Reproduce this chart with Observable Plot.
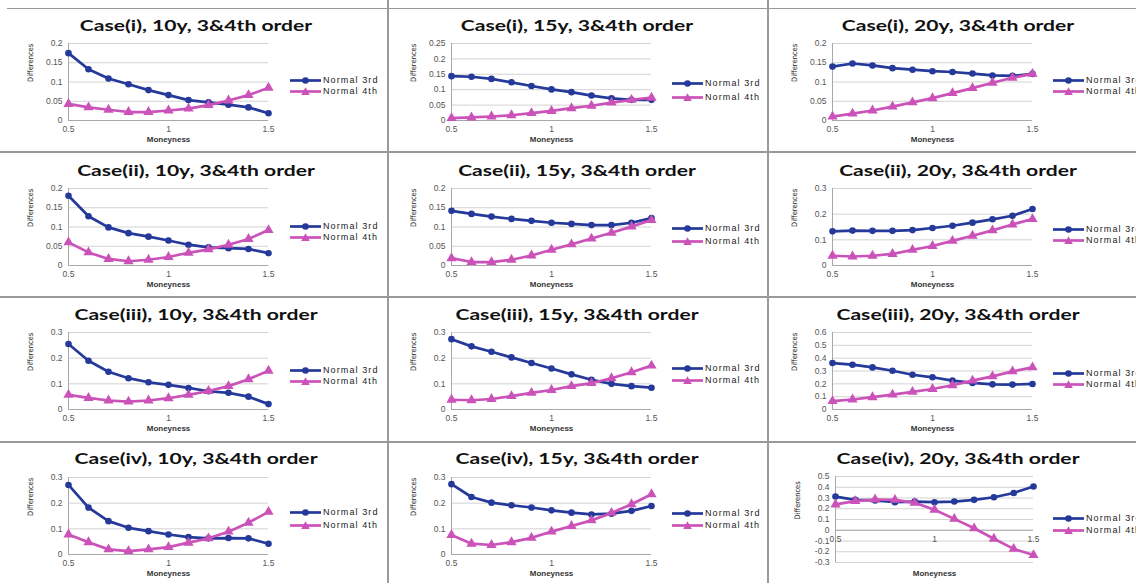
<!DOCTYPE html>
<html>
<head>
<meta charset="utf-8">
<script src="https://cdn.jsdelivr.net/npm/d3@7"></script>
<script src="https://cdn.jsdelivr.net/npm/@observablehq/plot@0.6"></script>
<style>
  body { margin: 0; width: 1136px; height: 583px; overflow: hidden; position: relative; background: #fff;
         font-family: "Liberation Sans", Arial, sans-serif; }
  .chart { position: absolute; overflow: visible; }
  .title { position: absolute; transform: translate(-50%, -50%) scaleX(1.36); white-space: nowrap;
           font-family: Lato, "Open Sans", sans-serif; font-weight: bold; font-size: 15.5px; color: #111; }
  .legend { position: absolute; display: flex; align-items: center; white-space: nowrap;
            font-size: 9px; letter-spacing: 1.1px; color: #222; transform: translateY(-50%); }
  .legend svg { margin-right: 2px; }
  .rule { position: absolute; background: #9a9a9a; }
</style>
</head>
<body>
<script>
// Moneyness grid shared by every panel
const moneyness = [0.5, 0.6, 0.7, 0.8, 0.9, 1.0, 1.1, 1.2, 1.3, 1.4, 1.5];
const xTicks = [0.5, 1, 1.5];

// Differences, case (i)
const third_i_10  = [0.175, 0.133, 0.109, 0.094, 0.079, 0.066, 0.053, 0.047, 0.041, 0.034, 0.019];
const fourth_i_10 = [0.043, 0.034, 0.028, 0.022, 0.022, 0.026, 0.031, 0.040, 0.052, 0.066, 0.085];
const third_i_15  = [0.144, 0.142, 0.135, 0.124, 0.112, 0.101, 0.092, 0.081, 0.072, 0.067, 0.067];
const fourth_i_15 = [0.008, 0.010, 0.013, 0.017, 0.024, 0.031, 0.040, 0.048, 0.058, 0.067, 0.074];
const third_i_20  = [0.140, 0.148, 0.143, 0.136, 0.132, 0.128, 0.126, 0.122, 0.117, 0.116, 0.121];
const fourth_i_20 = [0.010, 0.018, 0.026, 0.036, 0.047, 0.058, 0.071, 0.084, 0.098, 0.111, 0.121];
// case (ii)
const third_ii_10  = [0.181, 0.128, 0.099, 0.084, 0.075, 0.065, 0.054, 0.047, 0.045, 0.043, 0.032];
const fourth_ii_10 = [0.060, 0.034, 0.017, 0.011, 0.015, 0.022, 0.033, 0.042, 0.054, 0.069, 0.092];
const third_ii_15  = [0.142, 0.134, 0.127, 0.121, 0.116, 0.111, 0.108, 0.105, 0.105, 0.111, 0.123];
const fourth_ii_15 = [0.019, 0.009, 0.009, 0.015, 0.026, 0.041, 0.055, 0.070, 0.085, 0.101, 0.118];
const third_ii_20  = [0.133, 0.136, 0.135, 0.135, 0.138, 0.146, 0.155, 0.167, 0.180, 0.194, 0.220];
const fourth_ii_20 = [0.038, 0.035, 0.038, 0.045, 0.061, 0.076, 0.096, 0.116, 0.137, 0.160, 0.181];
// case (iii)
const third_iii_10  = [0.255, 0.190, 0.147, 0.122, 0.106, 0.096, 0.084, 0.071, 0.065, 0.050, 0.021];
const fourth_iii_10 = [0.057, 0.045, 0.035, 0.031, 0.035, 0.044, 0.057, 0.072, 0.091, 0.118, 0.151];
const third_iii_15  = [0.274, 0.246, 0.225, 0.203, 0.181, 0.160, 0.137, 0.116, 0.100, 0.091, 0.085];
const fourth_iii_15 = [0.038, 0.036, 0.041, 0.052, 0.065, 0.076, 0.091, 0.103, 0.122, 0.145, 0.171];
const third_iii_20  = [0.362, 0.349, 0.328, 0.302, 0.271, 0.251, 0.225, 0.207, 0.196, 0.194, 0.199];
const fourth_iii_20 = [0.065, 0.078, 0.096, 0.116, 0.137, 0.160, 0.189, 0.225, 0.258, 0.297, 0.328];
// case (iv)
const third_iv_10  = [0.271, 0.183, 0.130, 0.104, 0.091, 0.078, 0.068, 0.063, 0.064, 0.063, 0.042];
const fourth_iv_10 = [0.078, 0.048, 0.020, 0.013, 0.020, 0.029, 0.046, 0.063, 0.089, 0.124, 0.166];
const third_iv_15  = [0.274, 0.224, 0.202, 0.192, 0.183, 0.172, 0.163, 0.156, 0.159, 0.170, 0.189];
const fourth_iv_15 = [0.076, 0.042, 0.037, 0.048, 0.065, 0.089, 0.111, 0.133, 0.162, 0.196, 0.235];
const third_iv_20  = [0.313, 0.283, 0.277, 0.261, 0.267, 0.261, 0.267, 0.283, 0.307, 0.347, 0.407];
const fourth_iv_20 = [0.240, 0.271, 0.286, 0.283, 0.255, 0.191, 0.106, 0.018, -0.079, -0.173, -0.231];

// y tick sets
const ticks020 = [0, 0.05, 0.1, 0.15, 0.2];
const ticks025 = [0, 0.05, 0.1, 0.15, 0.2, 0.25];
const ticks030 = [0, 0.1, 0.2, 0.3];
const ticks060 = [0, 0.1, 0.2, 0.3, 0.4, 0.5, 0.6];
const ticksNeg = [-0.3, -0.2, -0.1, 0, 0.1, 0.2, 0.3, 0.4, 0.5];

const seriesNames = ["Normal 3rd", "Normal 4th"];
const titles = [
  "Case(i), 10y, 3&4th order", "Case(i), 15y, 3&4th order", "Case(i), 20y, 3&4th order",
  "Case(ii), 10y, 3&4th order", "Case(ii), 15y, 3&4th order", "Case(ii), 20y, 3&4th order",
  "Case(iii), 10y, 3&4th order", "Case(iii), 15y, 3&4th order", "Case(iii), 20y, 3&4th order",
  "Case(iv), 10y, 3&4th order", "Case(iv), 15y, 3&4th order", "Case(iv), 20y, 3&4th order"
];
const thirds  = [third_i_10, third_i_15, third_i_20, third_ii_10, third_ii_15, third_ii_20,
                 third_iii_10, third_iii_15, third_iii_20, third_iv_10, third_iv_15, third_iv_20];
const fourths = [fourth_i_10, fourth_i_15, fourth_i_20, fourth_ii_10, fourth_ii_15, fourth_ii_20,
                 fourth_iii_10, fourth_iii_15, fourth_iii_20, fourth_iv_10, fourth_iv_15, fourth_iv_20];
const yTickSets = [ticks020, ticks025, ticks020, ticks020, ticks020, ticks030,
                   ticks030, ticks030, ticks060, ticks030, ticks030, ticksNeg];

// ---- layout ----
const BLUE = "#24399a", PINK = "#cb52b8";
const plotLeft = [68, 451, 832];
const plotTop = [43, 188, 332, 477];
const plotW = 200, plotH = 77;
const titleX = [196, 577, 958];
const titleY = [25, 170, 314, 458];
const legendX = [290, 672, 1053];
const legendY = [[80, 91], [83, 97], [80, 91], [226, 237], [228, 241], [229, 240],
                 [370, 381], [368, 380], [373, 384], [512, 525], [513, 525], [518, 530]];
const ML = 50, MR = 10, MT = 8, MB = 30;

function addRule(x, y, w, h) {
  const d = document.createElement("div");
  d.className = "rule";
  Object.assign(d.style, {left: x + "px", top: y + "px", width: w + "px", height: h + "px"});
  document.body.appendChild(d);
}
// table grid
addRule(387, 0, 1.5, 583);
addRule(767, 0, 1.5, 583);
addRule(0, 151, 1136, 1.5);
addRule(0, 296, 1136, 1.5);
addRule(0, 441, 1136, 1.5);
addRule(7, 8, 1129, 1);

function legendSwatch(color, symbol) {
  const ns = "http://www.w3.org/2000/svg";
  const s = document.createElementNS(ns, "svg");
  s.setAttribute("width", 31); s.setAttribute("height", 9);
  s.innerHTML = `<line x1="0" x2="31" y1="4.5" y2="4.5" stroke="${color}" stroke-width="2.7"/>` +
    (symbol === "circle"
      ? `<circle cx="15.5" cy="4.5" r="3.3" fill="${color}"/>`
      : `<path d="M15.5,0.3 L19.8,8 L11.2,8 Z" fill="${color}"/>`);
  return s;
}

titles.forEach((title, k) => {
  const col = k % 3, row = Math.floor(k / 3);
  const ticks = yTickSets[k];
  const [y0, y1] = d3.extent(ticks);
  const negative = y0 < 0;
  const left = plotLeft[col] + (negative ? 3 : 0);
  const w = plotW - (negative ? 2 : 0);
  const h = negative ? 86 : plotH;
  const top = plotTop[row] - (negative ? 1 : 0);
  const rows = moneyness.map((m, i) => ({m, third: thirds[k][i], fourth: fourths[k][i]}));

  const chart = Plot.plot({
    width: w + ML + MR, height: h + MT + MB,
    marginLeft: ML, marginRight: MR, marginTop: MT, marginBottom: MB,
    style: {fontFamily: "'Liberation Sans', Arial, sans-serif", fontSize: "8.5px", background: "transparent", overflow: "visible"},
    x: {domain: [0.5, 1.5], axis: null},
    y: {domain: [y0, y1], axis: null},
    marks: [
      Plot.gridY(ticks, {stroke: "#d2d2d2", strokeOpacity: 1}),
      Plot.axisY(ticks, {tickSize: 0, tickPadding: 6, tickFormat: d => String(d), fill: "#555", letterSpacing: "0.6px"}),
      Plot.ruleX([0.5], {stroke: "#a8a8a8"}),
      Plot.ruleY([0], {stroke: "#a8a8a8"}),
      Plot.text(xTicks, {x: d => d, y: 0, dy: 9, text: d => String(d), fill: "#555", letterSpacing: "0.6px"}),
      Plot.line(rows, {x: "m", y: "third", stroke: BLUE, strokeWidth: 2.7}),
      Plot.dot(rows, {x: "m", y: "third", fill: BLUE, r: 3.3, symbol: "circle"}),
      Plot.line(rows, {x: "m", y: "fourth", stroke: PINK, strokeWidth: 2.7}),
      Plot.dot(rows, {x: "m", y: "fourth", fill: PINK, r: 3.8, symbol: "triangle"}),
      Plot.text(["Moneyness"], {frameAnchor: "bottom", dy: negative ? 13 : 21, text: d => d,
        fontSize: 8, fontWeight: "bold", fill: "#333", letterSpacing: "1px"}),
      Plot.text(["Differences"], {frameAnchor: "left", dx: -38, rotate: -90, text: d => d,
        fontFamily: "'Liberation Sans Narrow', 'DejaVu Sans Condensed', sans-serif", fontSize: 7.5, fill: "#222"})
    ]
  });
  chart.classList.add("chart");
  chart.style.left = (left - ML) + "px";
  chart.style.top = (top - MT) + "px";
  document.body.appendChild(chart);

  const t = document.createElement("div");
  t.className = "title";
  t.textContent = title;
  t.style.left = titleX[col] + "px";
  t.style.top = titleY[row] + "px";
  document.body.appendChild(t);

  seriesNames.forEach((name, j) => {
    const lg = document.createElement("div");
    lg.className = "legend";
    lg.style.left = legendX[col] + "px";
    lg.style.top = legendY[k][j] + "px";
    lg.appendChild(legendSwatch(j === 0 ? BLUE : PINK, j === 0 ? "circle" : "triangle"));
    lg.appendChild(document.createTextNode(name));
    document.body.appendChild(lg);
  });
});
</script>
</body>
</html>
